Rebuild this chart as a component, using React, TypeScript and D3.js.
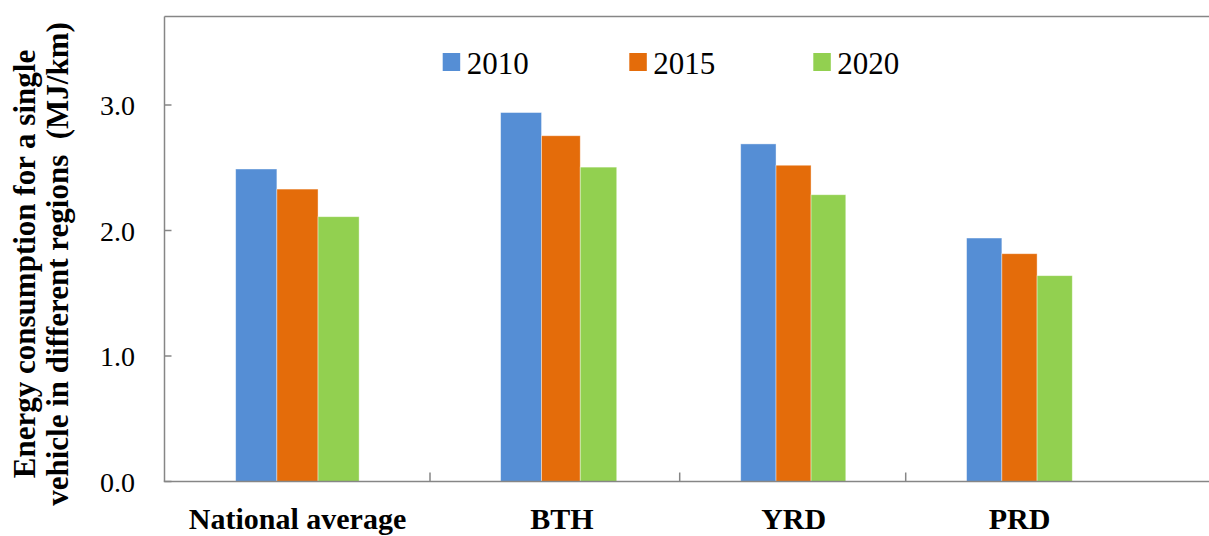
import React from "react";
import * as d3 from "d3";

const categories = ["National average", "BTH", "YRD", "PRD"];
const years = ["2010", "2015", "2020"];
const values2010 = [2.49, 2.94, 2.69, 1.94];
const values2015 = [2.33, 2.755, 2.52, 1.815];
const values2020 = [2.11, 2.505, 2.285, 1.64];
const yTicks = [0, 1, 2, 3];
const colors = ["#558ED5", "#E46C0A", "#92D050"];

const W = 1209;
const H = 536;
const axisColor = "#868686";
const serif = "'Liberation Serif', 'Times New Roman', serif";

export default function App() {
  const series = [values2010, values2015, values2020];
  const y = d3.scaleLinear().domain([0, 3]).range([481.5, 105]);
  // piecewise category scale (the reference is unevenly stretched horizontally)
  const x = d3
    .scaleLinear()
    .domain([-0.5, 0, 0.5, 1, 1.5, 2, 2.5, 3, 3.5])
    .range([164.5, 297.5, 430, 562, 679.7, 793.7, 905.7, 1019.5, 1133]);
  const bw = 0.155;
  const left = 164.5;
  const top = 16.5;
  const bottom = y(0);

  return (
    <svg width={W} height={H} style={{ position: "absolute", left: 0, top: 0, background: "#fff" }}>
      {/* bars */}
      {categories.map((c, i) =>
        series.map((s, k) => {
          const x0 = x(i + (k - 1.5) * bw);
          const x1 = x(i + (k - 0.5) * bw);
          return (
            <rect
              key={c + k}
              x={x0}
              y={y(s[i])}
              width={x1 - x0}
              height={bottom - y(s[i])}
              fill={colors[k]}
              stroke="#ffffff"
              strokeOpacity={0.5}
              strokeWidth={0.8}
            />
          );
        })
      )}
      {/* frame */}
      <line x1={left} x2={W} y1={top} y2={top} stroke={axisColor} strokeWidth={1.5} />
      <line x1={left} x2={left} y1={top} y2={bottom} stroke={axisColor} strokeWidth={1.5} />
      <line x1={left - 0.75} x2={W} y1={bottom} y2={bottom} stroke={axisColor} strokeWidth={1.5} />
      {/* y ticks */}
      {yTicks.map((t) => (
        <g key={t}>
          <line x1={left} x2={left + 7} y1={y(t)} y2={y(t)} stroke={axisColor} strokeWidth={1.5} />
          <text
            x={135}
            y={y(t) + 10}
            textAnchor="end"
            fontFamily={serif}
            fontSize={28}
            fill="#000"
          >
            {t.toFixed(1)}
          </text>
        </g>
      ))}
      {/* x ticks at category boundaries */}
      {[0.5, 1.5, 2.5].map((b) => (
        <line key={b} x1={x(b)} x2={x(b)} y1={bottom} y2={bottom - 9} stroke={axisColor} strokeWidth={1.5} />
      ))}
      {/* x labels */}
      {categories.map((c, i) => (
        <text
          key={c}
          x={x(i)}
          y={529}
          textAnchor="middle"
          fontFamily={serif}
          fontWeight="bold"
          fontSize={30}
          fill="#000"
        >
          {c}
        </text>
      ))}
      {/* y axis title */}
      <text
        transform="translate(35,264) rotate(-90)"
        textAnchor="middle"
        fontFamily={serif}
        fontWeight="bold"
        fontSize={31}
        fill="#000"
      >
        Energy consumption for a single
      </text>
      <text
        transform="translate(68,264) rotate(-90)"
        textAnchor="middle"
        fontFamily={serif}
        fontWeight="bold"
        fontSize={31}
        fill="#000"
        style={{ whiteSpace: "pre" }}
      >
        {"vehicle in different regions  (MJ/km)"}
      </text>
      {/* legend */}
      {years.map((yr, k) => {
        const lx = [442.7, 629.3, 813.3][k];
        return (
          <g key={yr}>
            <rect x={lx} y={53} width={17.5} height={18} fill={colors[k]} />
            <text x={lx + 24} y={74} fontFamily={serif} fontSize={31} fill="#000">
              {yr}
            </text>
          </g>
        );
      })}
    </svg>
  );
}
